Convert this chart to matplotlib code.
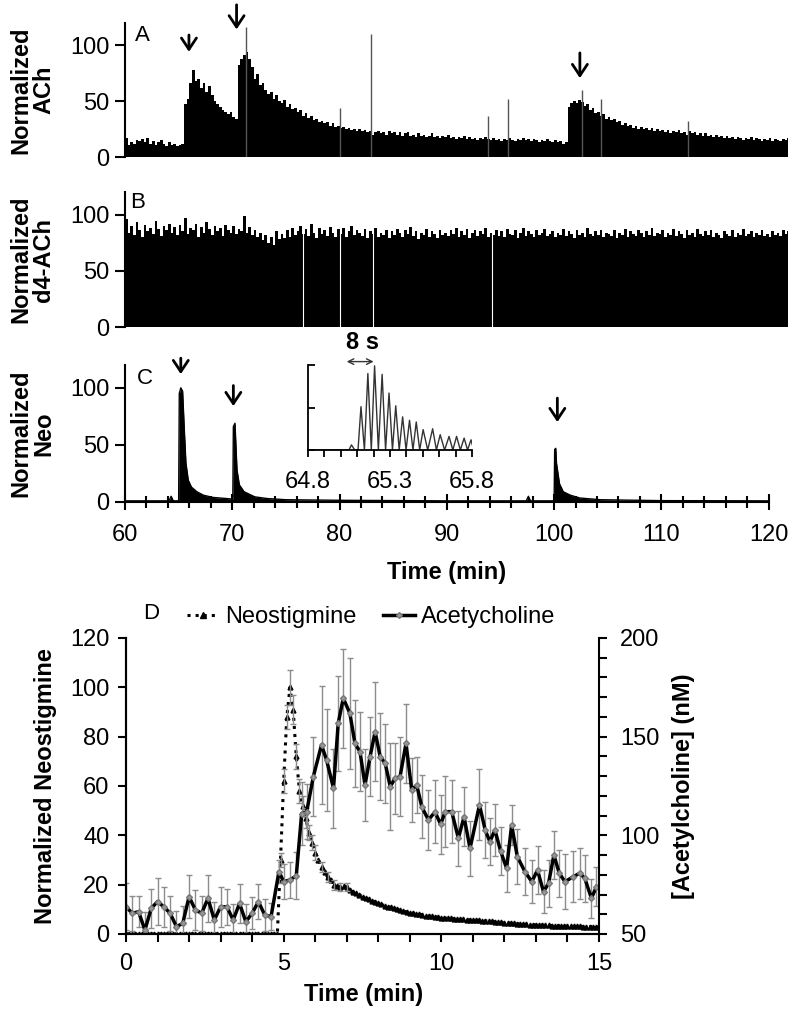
import numpy as np
import matplotlib
matplotlib.use("Agg")
import matplotlib.pyplot as plt
from matplotlib.ticker import MultipleLocator
from matplotlib.lines import Line2D

plt.rcParams['font.family'] = ['Liberation Sans', 'DejaVu Sans']
FS = 17

# ---------------- data: panels A-C (time in min, 0.25 min bins from 60) ----------------
BIN = 0.25
ach_norm = [
    17, 11, 13, 12, 15, 14, 16, 13, 17, 12, 14, 11, 13, 15, 12, 10, 13, 11, 12, 10,
    11, 12, 47, 52, 66, 78, 68, 70, 62, 66, 58, 63, 55, 50, 47, 45, 42, 40, 38, 40,
    36, 34, 82, 88, 91, 94, 88, 80, 70, 74, 64, 66, 60, 56, 58, 52, 55, 50, 48, 51,
    45, 47, 43, 44, 40, 42, 37, 39, 35, 37, 33, 34, 31, 32, 30, 31, 28, 30, 27, 28,
    26, 27, 25, 26, 24, 25, 23, 25, 23, 24, 22, 23, 20, 22, 23, 21, 22, 20, 23, 21,
    22, 20, 22, 19, 21, 22, 19, 20, 18, 21, 19, 20, 18, 19, 21, 18, 19, 17, 19, 18,
    20, 17, 18, 16, 18, 17, 19, 16, 18, 16, 17, 15, 17, 16, 18, 16, 15, 17, 15, 16,
    14, 16, 15, 17, 15, 14, 16, 15, 17, 15, 16, 14, 16, 15, 13, 15, 14, 16, 14, 13,
    15, 13, 14, 12, 13, 45, 48, 50, 48, 51, 49, 46, 47, 42, 44, 39, 40, 37, 38, 34,
    36, 33, 34, 31, 32, 29, 30, 28, 29, 26, 28, 25, 27, 25, 26, 24, 26, 23, 25, 23,
    24, 22, 24, 21, 23, 22, 24, 21, 22, 20, 23, 21, 22, 20, 21, 19, 21, 19, 20, 18,
    20, 18, 19, 17, 19, 17, 18, 16, 18, 17, 15, 17, 16, 18, 15, 17, 16, 14, 16, 15,
    17, 14, 16, 15, 14, 16, 15, 17,
]
ach_spike_t = [71.25, 80.0, 82.9, 93.8, 95.7, 102.56, 104.4, 112.5]
ach_spike_v = [116, 44, 110, 37, 52, 60, 52, 32]

d4_norm = [
    96, 84, 90, 82, 93, 86, 80, 91, 85, 88, 83, 94, 87, 81, 90, 86, 92, 84, 89, 82,
    91, 85, 97, 83, 88, 86, 92, 80, 89, 84, 93, 87, 82, 90, 85, 88, 81, 91, 86, 84,
    90, 83, 87, 85, 99, 84, 89, 82, 86, 80, 84, 77, 82, 75, 80, 73, 85, 78, 83, 79,
    86, 80, 88, 82, 85, 90, 83, 87, 81, 92, 84, 79, 88, 83, 86, 81, 89, 84, 80, 87,
    83, 88, 80, 85, 90, 82, 86, 84, 81, 87, 79, 85, 83, 88, 80, 84, 82, 86, 79, 85,
    82, 87, 84, 80, 86, 83, 89, 81, 85, 78, 84, 82, 87, 80, 85, 83, 79, 86, 82, 84,
    81, 86, 83, 88, 80, 85, 82, 87, 79, 84, 86, 81, 85, 83, 88, 80, 84, 82, 86, 81,
    85, 80, 87, 83, 82, 86, 79, 84, 88, 81, 85, 83, 80, 86, 82, 84, 87, 81, 83, 85,
    80, 84, 82, 87, 81, 85, 83, 79, 86, 82, 84, 80, 88, 83, 81, 85, 82, 86, 80, 84,
    83, 81, 86, 79, 84, 82, 87, 80, 85, 83, 81, 86, 84, 80, 85, 82, 88, 81, 84, 83,
    86, 80, 84, 82, 87, 81, 85, 83, 79, 86, 82, 84, 80, 87, 83, 81, 85, 82, 86, 80,
    84, 82, 79, 85, 83, 81, 86, 80, 84, 82, 87, 81, 83, 85, 80, 84, 82, 86, 81, 83,
    80, 85, 82, 84, 81, 86, 83, 85,
]
d4_gap_t = [76.6, 80.0, 83.1, 94.2]

neo_c_t = [60.0, 62.0, 64.1, 64.3, 64.5, 65.0, 65.06, 65.2, 65.37, 65.53, 65.68, 65.9,
           66.2, 66.7, 67.3, 68.2, 69.5, 70.05, 70.1, 70.25, 70.44, 70.66, 71.1, 72.1,
           73.3, 75.0, 80.0, 90.0, 97.4, 97.6, 97.8, 100.0, 100.05, 100.15, 100.22,
           100.5, 100.85, 101.5, 102.4, 104.3, 110.0, 120.0]
neo_c_v = [1, 1, 1, 5, 1, 1, 95, 100, 97, 63, 34, 19,
           13, 9, 6, 4, 3, 2.5, 66, 69, 28, 15, 9, 4.5,
           3, 2, 1.5, 1, 1, 5, 1, 1, 46, 47, 34,
           16, 9, 6, 3.5, 2, 1.2, 1]

inset_t = [64.8, 65.05, 65.065, 65.085, 65.105, 65.123, 65.144, 65.165, 65.186, 65.206,
           65.229, 65.252, 65.273, 65.294, 65.315, 65.335, 65.356, 65.377, 65.398,
           65.419, 65.44, 65.46, 65.481, 65.502, 65.53, 65.56, 65.583, 65.606, 65.633,
           65.66, 65.683, 65.706, 65.729, 65.752, 65.773, 65.794, 65.81]
inset_v = [0, 0, 6, 0, 0, 51, 0, 90, 0, 99, 0, 89, 0, 67, 0, 52, 0, 39, 0, 35, 0, 33,
           0, 24, 0, 25, 0, 18, 0, 16, 0, 16, 0, 14, 0, 12, 0]

# arrows: (x, tail y, tip y)
arrows_a = [(65.96, 109, 94), (70.4, 136, 114), (102.4, 93, 70.5)]
arrows_c = [(65.2, 126, 112), (70.1, 102, 84), (100.3, 91, 70)]

# ---------------- data: panel D ----------------
neo_t = np.round(np.arange(151) * 0.1, 1)
neo_v = [0, 0, 0, 0, 0, 0, 0, 0, 0, 0, 0, 0, 0, 0, 0, 0, 0, 0, 0, 0,
         0, 0, 0, 0, 0, 0, 0, 0, 0, 0, 0, 0, 0, 0, 0, 0, 0, 0, 0, 0,
         0, 0, 0, 0, 0, 0, 0, 0, 0,
         30, 62, 88, 100, 91, 72, 58, 52, 47, 41, 37,
         33, 30, 27, 25, 23, 22, 20, 19.5, 19, 19.5,
         19, 18, 17, 16.5, 16, 15, 14.5, 14, 13.5, 13,
         12.5, 12, 11.5, 11, 10.8, 10.4, 10, 9.6, 9.2, 9,
         8.7, 8.4, 8.2, 8, 7.8, 7.5, 7.3, 7.1, 7, 6.8,
         6.6, 6.5, 6.4, 6.3, 6.2, 6.1, 6.0, 5.9, 5.8, 5.7,
         5.7, 5.6, 5.5, 5.4, 5.3, 5.2, 5.1, 5.0, 4.8, 4.7,
         4.6, 4.5, 4.4, 4.3, 4.2, 4.1, 4.0, 3.9, 3.8, 3.8,
         3.7, 3.6, 3.6, 3.5, 3.5, 3.4, 3.4, 3.3, 3.3, 3.2,
         3.2, 3.2, 3.1, 3.1, 3.1, 3.0, 3.0, 3.0, 3.0, 2.9, 2.9]
neo_err_t = [4.9, 5.0, 5.1, 5.2, 5.3, 5.4, 5.5, 5.6, 5.7, 5.8, 5.9, 6.0, 6.2, 6.4, 6.6, 6.8, 7.0]
neo_err = [3, 5, 5, 7, 6, 5, 5, 4, 4, 3, 3, 3, 2, 2, 2, 1.5, 1.5]

ach_t = [0.0, 0.2, 0.4, 0.6, 0.8, 1.0, 1.2, 1.4, 1.6, 1.8, 2.0, 2.2, 2.4, 2.6, 2.8, 3.0,
         3.2, 3.4, 3.6, 3.8, 4.0, 4.2, 4.4, 4.6, 4.85, 5.0, 5.2, 5.4, 5.57, 5.73, 5.94,
         6.2, 6.36, 6.58, 6.73, 6.89, 7.1, 7.26, 7.42, 7.58, 7.74, 7.9, 8.06, 8.22, 8.38,
         8.53, 8.69, 8.88, 9.06, 9.22, 9.38, 9.59, 9.8, 9.98, 10.12, 10.33, 10.54, 10.72,
         10.91, 11.21, 11.39, 11.54, 11.7, 11.88, 12.07, 12.23, 12.41, 12.65, 12.87, 13.05,
         13.24, 13.4, 13.57, 13.74, 13.92, 14.18, 14.39, 14.55, 14.76, 14.92]
ach_nm = [63.8, 60.5, 61.3, 52.0, 63.0, 66.4, 63.8, 60.5, 53.7, 55.4, 68.9, 62.2, 60.5,
          68.1, 57.1, 63.8, 63.8, 57.1, 65.5, 56.2, 60.5, 66.4, 59.6, 58.8, 81.6, 76.5,
          77.4, 79.5, 111, 112, 129.7, 145.8, 138.2, 123.8, 156.8, 169.5, 161.8, 146.6,
          142.4, 125.5, 139.9, 152.5, 139.9, 136.5, 124.7, 128.9, 129.7, 146.6, 123,
          125.5, 114.5, 107.8, 111.9, 105.5, 112, 112, 98.5, 109.4, 93.4, 115.4, 102.7,
          96.8, 102.7, 92, 83.3, 105.2, 89.2, 81.6, 76.5, 82.4, 71.4, 75.7, 90, 80.8,
          76.5, 79, 80.8, 78.2, 68.1, 74]
ach_err = [12, 9, 8, 9, 10, 12, 10, 9, 8, 9, 11, 10, 9, 12, 9, 10, 9, 8, 10, 9, 8, 9, 8, 7,
           6, 9, 9, 12, 16, 14, 20, 30, 26, 20, 24, 25, 28, 22, 20, 18, 20, 25, 22, 20, 22,
           18, 20, 20, 16, 14, 16, 15, 16, 15, 18, 16, 14, 15, 14, 18, 14, 12, 13, 12, 12,
           10, 14, 12, 11, 12, 11, 12, 12, 12, 14, 13, 13, 12, 10, 10]

# ---------------- layout helpers (pixel geometry of the 800x1010 figure) ----------------
W, H = 800, 1010
fig = plt.figure(figsize=(W / 100, H / 100), dpi=100)


def px_axes(left, top, right, bottom):
    return fig.add_axes([left / W, 1 - bottom / H, (right - left) / W, (bottom - top) / H])


def px_text(x, y, s, **kw):
    fig.text(x / W, 1 - y / H, s, **kw)


def style_trace_axes(ax, label):
    for s in ("top", "right", "bottom"):
        ax.spines[s].set_visible(False)
    ax.spines["left"].set_linewidth(1.5)
    ax.set_xlim(60, 121.8)
    ax.set_ylim(0, 120)
    ax.set_yticks([0, 50, 100])
    ax.set_xticks([])
    ax.tick_params(axis="y", direction="out", length=7, width=1.5, pad=4, labelsize=FS)
    ax.set_ylabel(label, fontsize=FS, fontweight="bold", linespacing=1.0)
    ax.yaxis.set_label_coords(-0.105, 0.5)


def draw_arrows(ax, arrows):
    for x, y0, y1 in arrows:
        ax.annotate("", xy=(x, y1), xytext=(x, y0), annotation_clip=False,
                    arrowprops=dict(arrowstyle="->,head_length=0.45,head_width=0.3",
                                    lw=2, color="k", shrinkA=0, shrinkB=0,
                                    mutation_scale=18))


edges = 60 + BIN * np.arange(len(ach_norm) + 1)

# Panel A
axA = px_axes(125, 22.7, 788, 157)
axA.stairs(ach_norm, edges, fill=True, color="k", lw=0)
axA.vlines(ach_spike_t, 0, ach_spike_v, color="#555555", lw=1)
style_trace_axes(axA, "Normalized\nACh")
draw_arrows(axA, arrows_a)
px_text(135, 25, "A", fontsize=16, va="top", ha="left")

# Panel B
edges_b = 60 + BIN * np.arange(len(d4_norm) + 1)
axB = px_axes(125, 192, 788, 327)
axB.stairs(d4_norm, edges_b, fill=True, color="k", lw=0)
axB.vlines(d4_gap_t, 0, 95, color="white", lw=0.8)
style_trace_axes(axB, "Normalized\nd4-ACh")
px_text(130, 192, "B", fontsize=16, va="top", ha="left")

# Panel C
axC = px_axes(125, 365, 788, 502)
axC.fill_between(neo_c_t, neo_c_v, color="k", lw=0)
axC.plot(neo_c_t, neo_c_v, color="k", lw=1)
style_trace_axes(axC, "Normalized\nNeo")
axC.spines["bottom"].set_visible(True)
axC.spines["bottom"].set_linewidth(1.5)
axC.spines["bottom"].set_bounds(60, 120)
axC.xaxis.set_major_locator(MultipleLocator(10))
axC.xaxis.set_minor_locator(MultipleLocator(2))
axC.tick_params(axis="x", which="major", direction="inout", length=12, width=1.5,
                pad=10, labelsize=FS)
axC.tick_params(axis="x", which="minor", direction="inout", length=8, width=1.5)
axC.set_xticks([60, 70, 80, 90, 100, 110, 120])
axC.set_xlabel("Time (min)", fontsize=FS, fontweight="bold")
axC.xaxis.set_label_coords(0.5 * 644 / 663, -0.43)
draw_arrows(axC, arrows_c)
px_text(137, 368, "C", fontsize=16, va="top", ha="left")

# Inset of C
axI = px_axes(308, 365, 472, 450)
axI.plot(inset_t, inset_v, color="#333333", lw=1)
axI.set_xlim(64.8, 65.8)
axI.set_ylim(0, 100)
for s in ("top", "right"):
    axI.spines[s].set_visible(False)
axI.spines["left"].set_linewidth(1.3)
axI.spines["bottom"].set_linewidth(1.3)
axI.set_xticks([64.8, 65.3, 65.8])
axI.xaxis.set_minor_locator(MultipleLocator(0.1))
axI.set_yticks([0, 50, 100])
axI.set_yticklabels([])
axI.tick_params(axis="x", which="both", direction="out", length=5, width=1.3,
                pad=10, labelsize=FS)
axI.tick_params(axis="y", direction="in", length=5, width=1.3)
axI.annotate("", xy=(65.2, 104), xytext=(65.036, 104), annotation_clip=False,
             arrowprops=dict(arrowstyle="<->", lw=1, color="#333333",
                             shrinkA=0, shrinkB=0, mutation_scale=10))
axI.text(0.33, 1.26, "8 s", transform=axI.transAxes, ha="center", va="center",
         fontsize=FS, fontweight="bold")

# Panel D
axD = px_axes(126, 638, 599, 934)
axD2 = axD.twinx()
axD.plot(neo_t, neo_v, ls=":", color="k", lw=2.2, marker="^", ms=3.5)
ei = np.searchsorted(neo_t, np.array(neo_err_t) - 1e-6)
axD.errorbar(neo_err_t, np.array(neo_v, dtype=float)[ei], yerr=neo_err, fmt="none",
             ecolor="#8c8c8c", elinewidth=1, capsize=2.5, capthick=1)
axD2.errorbar(ach_t, ach_nm, yerr=ach_err, fmt="none", ecolor="#8c8c8c",
              elinewidth=1, capsize=2.5, capthick=1)
axD2.plot(ach_t, ach_nm, color="k", lw=2.5, marker="D", ms=3, mfc="#999999", mec="#777777")

axD.set_xlim(0, 15)
axD.set_ylim(0, 120)
axD2.set_ylim(50, 200)
for a in (axD, axD2):
    a.spines["top"].set_visible(False)
    for s in ("left", "right", "bottom"):
        a.spines[s].set_linewidth(1.5)
axD.spines["right"].set_visible(False)
axD.xaxis.set_major_locator(MultipleLocator(5))
axD.xaxis.set_minor_locator(MultipleLocator(1))
axD.yaxis.set_major_locator(MultipleLocator(20))
axD.tick_params(axis="x", which="both", direction="out", length=6, width=1.5,
                pad=8, labelsize=FS)
axD.tick_params(axis="y", direction="out", length=6, width=1.5, pad=6, labelsize=FS)
axD2.yaxis.set_major_locator(MultipleLocator(50))
axD2.yaxis.set_minor_locator(MultipleLocator(10))
axD2.tick_params(axis="y", which="both", direction="out", length=6, width=1.5,
                 pad=9, labelsize=FS)
axD.set_xlabel("Time (min)", fontsize=FS, fontweight="bold")
axD.xaxis.set_label_coords(0.503, -0.165)
axD.set_ylabel("Normalized Neostigmine", fontsize=FS, fontweight="bold")
axD.yaxis.set_label_coords(-0.146, 0.5)
axD2.set_ylabel("[Acetylcholine] (nM)", fontsize=FS, fontweight="bold", rotation=90)
axD2.yaxis.set_label_coords(1.154, 0.5)
px_text(143, 603, "D", fontsize=16, va="top", ha="left")

handles = [Line2D([], [], ls=":", color="k", lw=2.2, marker="^", ms=4),
           Line2D([], [], color="k", lw=2.5, marker="D", ms=3, mfc="#999999", mec="#777777")]
fig.legend(handles, ["Neostigmine", "Acetycholine"], loc="center",
           bbox_to_anchor=(0.464, 0.389), ncol=2, frameon=False, fontsize=FS,
           handlelength=1.35, columnspacing=1.15, handletextpad=0.25)

fig.savefig("out.png", dpi=100)
